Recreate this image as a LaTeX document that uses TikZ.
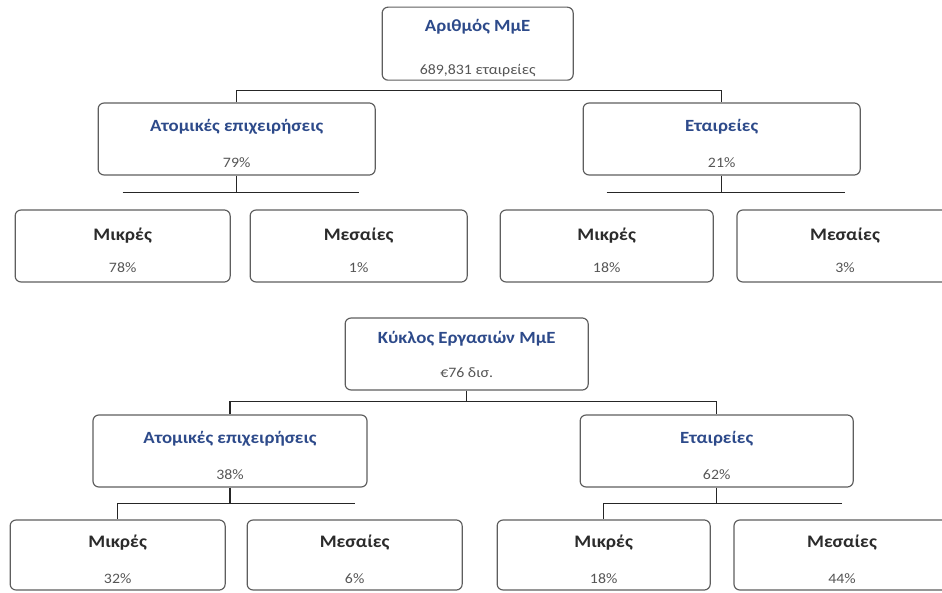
\documentclass[tikz,border=0pt]{standalone}
\usepackage{fontspec}
\setmainfont{Carlito}[FakeStretch=1.1]

\definecolor{headblue}{HTML}{2D4A8A}
\definecolor{headdark}{HTML}{2B2B2B}
\definecolor{valgray}{HTML}{555555}
\definecolor{rimgray}{HTML}{5E5E5E}

\newcommand{\bighead}[2][18pt]{\rule{0pt}{#1}{\fontsize{14.6}{17}\selectfont\bfseries\color{headblue}#2}}
\newcommand{\smallhead}[1]{\rule{0pt}{18pt}{\fontsize{15}{18}\selectfont\bfseries\color{headdark}#1}}
\newcommand{\boxval}[1]{{\fontsize{12.3}{14}\selectfont\color{valgray}#1}}

\tikzset{
	box/.style={shape=rectangle, rounded corners=5pt, draw=rimgray, line width=1pt,
		align=center, inner sep=0pt, minimum height=2.16cm},
	link/.style={draw=black!85, line width=1pt},
}

\begin{document}
\begin{tikzpicture}
	\clip (0,0) rectangle (28.26,-17.79);

	% number of firms
	\node[box, minimum width=5.73cm, minimum height=2.19cm] (arith) at (14.33, -1.31) {\bighead{Αριθμός ΜμΕ}\\[24pt]\boxval{689,831 εταιρείες}};

	\node[box, minimum width=8.31cm] (atom1) at (7.10, -4.17)  {\bighead{Ατομικές επιχειρήσεις}\\[18pt]\boxval{79\%}};
	\node[box, minimum width=8.31cm] (etair1) at (21.65, -4.17) {\bighead{Εταιρείες}\\[18pt]\boxval{21\%}};

	\node[box, minimum width=6.45cm] (mik1) at (3.68, -7.38)  {\smallhead{Μικρές}\\[16pt]\boxval{78\%}};
	\node[box, minimum width=6.51cm] (mes1) at (10.76, -7.38) {\smallhead{Μεσαίες}\\[16pt]\boxval{1\%}};
	\node[box, minimum width=6.39cm] (mik2) at (18.20, -7.38) {\smallhead{Μικρές}\\[16pt]\boxval{18\%}};
	\node[box, minimum width=6.48cm] (mes2) at (25.35, -7.38) {\smallhead{Μεσαίες}\\[16pt]\boxval{3\%}};

	% turnover
	\node[box, minimum width=7.29cm] (kyk) at (14.00, -10.62) {\bighead[12pt]{Κύκλος Εργασιών ΜμΕ}\\[17pt]\boxval{€76 δισ.}};

	\node[box, minimum width=8.22cm] (atom2) at (6.90, -13.53)  {\bighead{Ατομικές επιχειρήσεις}\\[18pt]\boxval{38\%}};
	\node[box, minimum width=8.19cm] (etair2) at (21.50, -13.53) {\bighead{Εταιρείες}\\[18pt]\boxval{62\%}};

	\node[box, minimum width=6.45cm, minimum height=2.10cm] (mik3) at (3.53, -16.65)  {\smallhead{Μικρές}\\[19pt]\boxval{32\%}};
	\node[box, minimum width=6.45cm, minimum height=2.10cm] (mes3) at (10.64, -16.65) {\smallhead{Μεσαίες}\\[19pt]\boxval{6\%}};
	\node[box, minimum width=6.39cm, minimum height=2.10cm] (mik4) at (18.11, -16.65) {\smallhead{Μικρές}\\[19pt]\boxval{18\%}};
	\node[box, minimum width=6.48cm, minimum height=2.10cm] (mes4) at (25.26, -16.65) {\smallhead{Μεσαίες}\\[19pt]\boxval{44\%}};


	\draw[link] (atom1.north) -- ++(0,0.36) -| (etair1.north);

	\draw[link] (atom1.south) -- ++(0,-0.51) coordinate (fork1);
	\draw[link] (mik1.north |- fork1) -- (mes1.north |- fork1);
	\draw[link] (etair1.south) -- ++(0,-0.51) coordinate (fork2);
	\draw[link] (mik2.north |- fork2) -- (mes2.north |- fork2);

	\draw[link] (kyk.south) -- ++(0,-0.33) coordinate (fork3);
	\draw[link] (atom2.north) |- (fork3) -| (etair2.north);

	\draw[link] (atom2.south) -- ++(0,-0.48) coordinate (fork4);
	\draw[link] (mes3.north |- fork4) -| (mik3.north);
	\draw[link] (etair2.south) -- ++(0,-0.48) coordinate (fork5);
	\draw[link] (mes4.north |- fork5) -| (mik4.north);

\end{tikzpicture}
\end{document}
